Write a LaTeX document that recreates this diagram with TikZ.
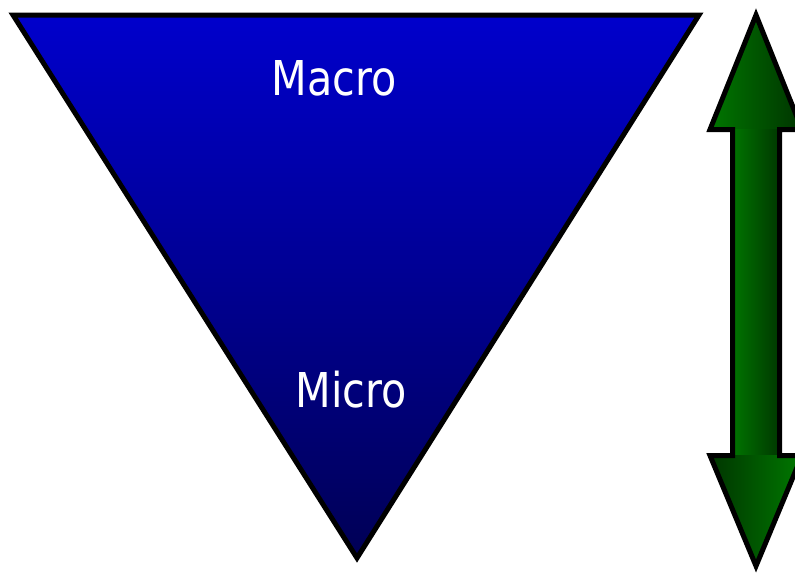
\documentclass[tikz,border=0pt]{standalone}
\usepackage{fontspec}
\setmainfont{DejaVu Sans}[FakeStretch=0.86]
\definecolor{triTop}{RGB}{0,0,204}
\definecolor{triMid}{RGB}{0,0,155}
\definecolor{triBot}{RGB}{0,0,85}
\definecolor{gBright}{RGB}{0,122,0}
\definecolor{gDark}{RGB}{0,50,0}
\newcommand\udarrowpath{(756,15) -- (802,129.5) -- (779.5,129.5) -- (779.5,455.5) -- (802,455.5) -- (756,566) -- (710,455.5) -- (732.5,455.5) -- (732.5,129.5) -- (710,129.5) -- cycle}
\tikzset{
  outline/.style={draw=black, line width=5pt, line join=miter},
  lbl/.style={text=white, font=\fontsize{48}{50}\selectfont, anchor=base, inner sep=0pt}
}
\begin{document}
\begin{tikzpicture}[x=1pt,y=-1pt]
\useasboundingbox (0,0) rectangle (795,573);
% triangle
\shade[top color=triTop, middle color=triMid, bottom color=triBot] (13,15) -- (699,15) -- (357,558) -- cycle;
\draw[outline] (13,15) -- (699,15) -- (357,558) -- cycle;
\node[lbl] (macro) at (334,95) {Macro};
\node[lbl] (micro) at (351,407) {Micro};
% double arrow
\begin{scope}
\clip \udarrowpath;
\shade[left color=gBright, right color=gDark] (705,0) rectangle (805,130);
\shade[left color=gBright, right color=gDark] (728,129) rectangle (784,456);
\shade[left color=gDark, right color=gBright] (705,455) rectangle (805,573);
\end{scope}
\draw[outline] \udarrowpath;
\end{tikzpicture}
\end{document}
